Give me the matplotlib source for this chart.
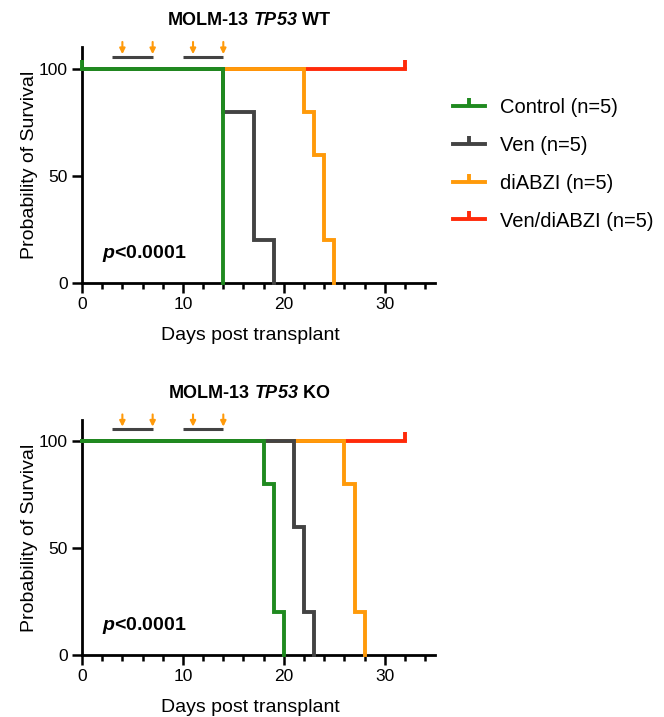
from matplotlib import pyplot as plt
from matplotlib.lines import Line2D
from matplotlib.path import Path
from matplotlib.ticker import MultipleLocator

plt.rcParams['font.family'] = ['Liberation Sans', 'DejaVu Sans']
plt.rcParams['mathtext.fontset'] = 'custom'
plt.rcParams['mathtext.bfit'] = 'Liberation Sans:italic:bold'
plt.rcParams['mathtext.it'] = 'Liberation Sans:italic'
plt.rcParams['mathtext.rm'] = 'Liberation Sans'

# group names and colours
groups = ['Control (n=5)', 'Ven (n=5)', 'diABZI (n=5)', 'Ven/diABZI (n=5)']
colors = ['#1f8a1f', '#434343', '#ff9a0a', '#ff2a0a']

# TP53 WT: event days and survival (%) after each event
wt_days = [[0, 14], [0, 14, 17, 19], [0, 22, 23, 24, 25], [0, 32]]
wt_surv = [[100, 0], [100, 80, 20, 0], [100, 80, 60, 20, 0], [100, 100]]
wt_censor = [[0], [], [], [32]]

# TP53 KO
ko_days = [[0, 18, 19, 20], [0, 21, 22, 23], [0, 26, 27, 28], [0, 32]]
ko_surv = [[100, 80, 20, 0], [100, 60, 20, 0], [100, 80, 20, 0], [100, 100]]
ko_censor = [[], [], [], [32]]

# treatment schedule
treat_bars = [(3, 7), (10, 14)]
dose_days = [4, 7, 11, 14]

titles = [r'MOLM-13 $\mathbfit{TP53}$ WT', r'MOLM-13 $\mathbfit{TP53}$ KO']

censor_mark = Path([(0, 0), (0, 1)])


def draw_panel(ax, days, surv, censor, title):
    for i in [3, 2, 1, 0]:
        ax.step(days[i], surv[i], where='post', color=colors[i], lw=2.8,
                solid_joinstyle='miter', clip_on=False, zorder=3 + (3 - i))
        for c in censor[i]:
            ax.plot([c], [100], marker=censor_mark, markersize=13, color=colors[i],
                    mew=2.8, clip_on=False, zorder=3 + (3 - i))
    for a, b in treat_bars:
        ax.plot([a, b], [105.5, 105.5], color='#434343', lw=2.2, clip_on=False,
                solid_capstyle='butt')
    for d in dose_days:
        ax.annotate('', xy=(d, 106.8), xytext=(d, 112.5),
                    arrowprops=dict(arrowstyle='-|>', color='#ff9a0a', lw=1.5,
                                    mutation_scale=8, shrinkA=0, shrinkB=0),
                    annotation_clip=False)
    ax.set_xlim(0, 35)
    ax.set_ylim(0, 110)
    ax.xaxis.set_major_locator(MultipleLocator(10))
    ax.xaxis.set_minor_locator(MultipleLocator(2))
    ax.set_yticks([0, 50, 100])
    for s in ['top', 'right']:
        ax.spines[s].set_visible(False)
    for s in ['left', 'bottom']:
        ax.spines[s].set_linewidth(2.0)
    ax.tick_params(which='major', length=7, width=1.8, labelsize=12.5, pad=3)
    ax.tick_params(which='minor', length=4, width=1.8)
    ax.set_ylabel('Probability of Survival', fontsize=14, labelpad=1)
    ax.set_xlabel('Days post transplant', fontsize=14, labelpad=11, x=0.477)
    ax.set_title(title, fontsize=13, fontweight='bold', pad=16, x=0.472)
    ax.text(2, 14, r'$\mathbfit{p}$<0.0001', fontsize=14, fontweight='bold',
            va='center')


fig = plt.figure(figsize=(6.64, 7.17), dpi=100)
ax1 = fig.add_axes([0.1235, 0.605, 0.532, 0.329])
ax2 = fig.add_axes([0.1235, 0.0865, 0.532, 0.328])
draw_panel(ax1, wt_days, wt_surv, wt_censor, titles[0])
draw_panel(ax2, ko_days, ko_surv, ko_censor, titles[1])

handles = [Line2D([0], [0], color=c, lw=2.8, marker=censor_mark, markersize=12,
                  mew=2.8) for c in colors]
fig.legend(handles, groups, loc='upper left', bbox_to_anchor=(0.655, 0.889),
           frameon=False, fontsize=14.5, handlelength=1.6, handletextpad=0.75,
           labelspacing=0.94)

plt.savefig('out.png', dpi=100)
